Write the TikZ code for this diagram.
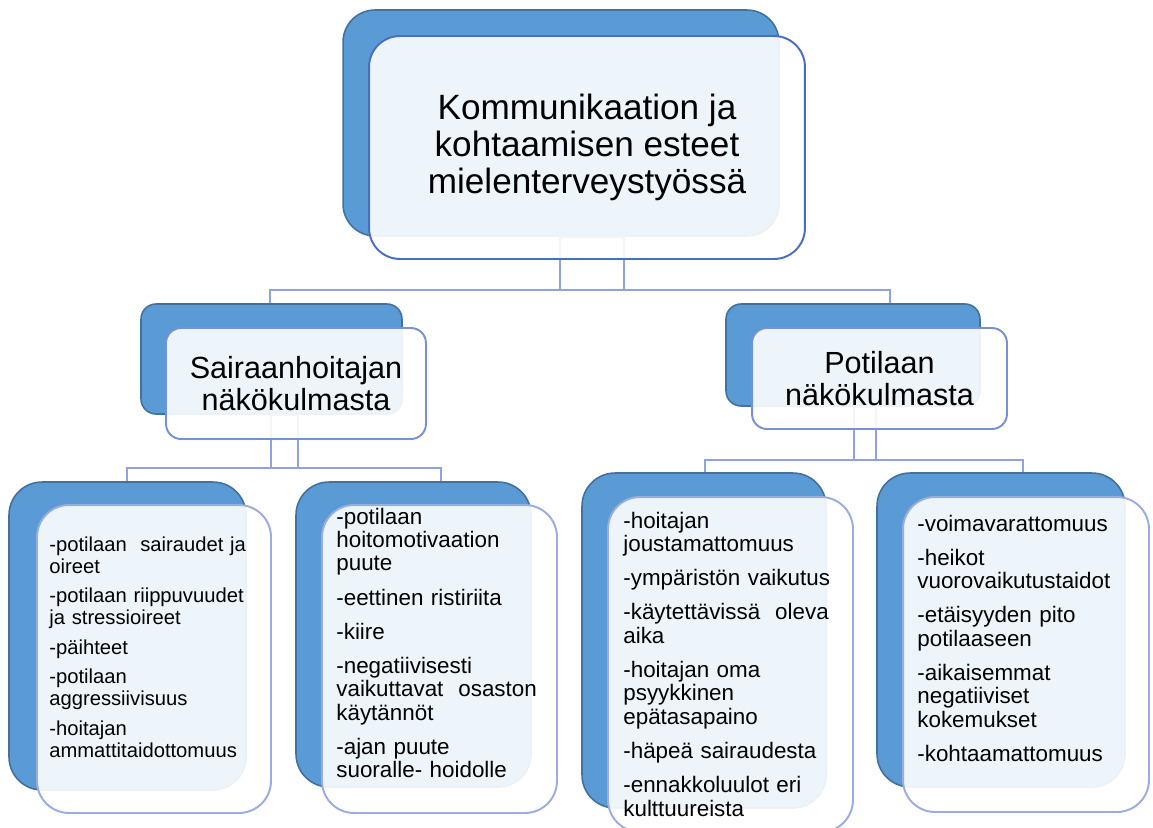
\documentclass[tikz,border=0pt]{standalone}
\usepackage{fontspec}
\setmainfont{Liberation Sans}
\definecolor{blueFill}{RGB}{91,155,213}
\definecolor{blueEdge}{RGB}{65,113,156}
\definecolor{edgeTop}{RGB}{72,110,196}
\definecolor{edgeMid}{RGB}{120,145,210}
\definecolor{edgeLow}{RGB}{155,172,222}
\definecolor{connCol}{RGB}{143,163,220}
\tikzset{
  back/.style={draw=blueEdge, fill=blueFill, line width=0.9pt, inner sep=0pt},
  front/.style={fill=white, fill opacity=0.9, text opacity=1, line width=1.1pt, inner sep=0pt, align=center},
  conn/.style={draw=connCol, line width=1.1pt},
  items/.style={anchor=base west, inner sep=0pt, text width=4.4cm, align=left,
    font=\fontsize{12.75pt}{13.3pt}\selectfont,
    execute at begin node={\parskip=6.2pt\parindent=0pt}},
  itemsSmall/.style={items, font=\fontsize{11.5pt}{12.6pt}\selectfont,
    execute at begin node={\parskip=4.2pt\parindent=0pt}}
}
\begin{document}
\begin{tikzpicture}[x=0.02cm, y=-0.02cm]
  \useasboundingbox[fill=white] (0,0) rectangle (1153,828);

  % back boxes
  \node[back, rounded corners=0.64cm, minimum width=8.72cm, minimum height=4.52cm] (top back) at (561,123) {};
  \node[back, rounded corners=0.3cm, minimum width=5.22cm, minimum height=2.2cm] (sair back) at (271.5,359) {};
  \node[back, rounded corners=0.3cm, minimum width=5.08cm, minimum height=2.04cm] (pot back) at (853,355) {};
  \node[back, rounded corners=0.66cm, minimum width=4.74cm, minimum height=6.16cm] (sa back) at (127.5,636) {};
  \node[back, rounded corners=0.66cm, minimum width=4.7cm, minimum height=6.1cm] (sb back) at (413.5,634.5) {};
  \node[back, rounded corners=0.66cm, minimum width=4.88cm, minimum height=6.7cm] (pa back) at (704,640.5) {};
  \node[back, rounded corners=0.66cm, minimum width=4.96cm, minimum height=6.28cm] (pb back) at (1001,630) {};

  % connectors
  \coordinate (stemA) at (560,290);
  \coordinate (stemB) at (624,290);
  \coordinate (legA) at (270,290);
  \coordinate (legB) at (890,290);
  \draw[conn] (top back.south -| stemA) rectangle (stemB);
  \draw[conn] (legA |- sair back.north) -- (legA) -- (legB) -- (legB |- pot back.north);

  \coordinate (stemC) at (271,468);
  \coordinate (stemD) at (298,468);
  \coordinate (legC) at (127,468);
  \coordinate (legD) at (441,468);
  \draw[conn] (sair back.south -| stemC) rectangle (stemD);
  \draw[conn] (legC |- sa back.north) -- (legC) -- (legD) -- (legD |- sb back.north);

  \coordinate (stemE) at (854,460);
  \coordinate (stemF) at (876,460);
  \coordinate (legE) at (705,460);
  \coordinate (legF) at (1023,460);
  \draw[conn] (pot back.south -| stemE) rectangle (stemF);
  \draw[conn] (legE |- pa back.north) -- (legE) -- (legF) -- (legF |- pb back.north);

  % front boxes
  \node[front, draw=edgeTop, rounded corners=0.62cm, minimum width=8.72cm, minimum height=4.46cm,
    font=\fontsize{20pt}{21pt}\selectfont] (top) at (587,147.5)
    {Kommunikaation ja\\kohtaamisen esteet\\mielenterveystyössä};
  \node[front, draw=edgeMid, rounded corners=0.3cm, minimum width=5.2cm, minimum height=2.22cm,
    font=\fontsize{17.4pt}{17.9pt}\selectfont] (sair) at (296,383.5)
    {Sairaanhoitajan\\näkökulmasta};
  \node[front, draw=edgeMid, rounded corners=0.3cm, minimum width=5.1cm, minimum height=2.02cm,
    font=\fontsize{17.4pt}{17.9pt}\selectfont] (pot) at (879.5,378.5)
    {Potilaan\\näkökulmasta};
  \node[front, draw=edgeLow, rounded corners=0.64cm, minimum width=4.68cm, minimum height=6.16cm] (sa) at (154,659) {};
  \node[front, draw=edgeLow, rounded corners=0.64cm, minimum width=4.7cm, minimum height=6.16cm] (sb) at (439.5,659) {};
  \node[front, draw=edgeLow, rounded corners=0.64cm, minimum width=4.9cm, minimum height=6.7cm] (pa) at (730.5,664.5) {};
  \node[front, draw=edgeLow, rounded corners=0.64cm, minimum width=4.92cm, minimum height=6.3cm] (pb) at (1026,654.5) {};

  % lists
  \node[itemsSmall] (sa text) at (49,551) {%
    -potilaan\ \ sairaudet ja\\oireet\par
    -potilaan riippuvuudet\\ja stressioireet\par
    -päihteet\par
    -potilaan\\aggressiivisuus\par
    -hoitajan\\ammattitaidottomuus};
  \node[items] (sb text) at (336,524) {%
    -potilaan\\hoitomotivaation\\puute\par
    -eettinen ristiriita\par
    -kiire\par
    -negatiivisesti\\vaikuttavat\ \ osaston\\käytännöt\par
    -ajan puute\\suoralle- hoidolle};
  \node[items] (pa text) at (623,528) {%
    -hoitajan\\joustamattomuus\par
    -ympäristön vaikutus\par
    -käytettävissä\ \ oleva\\aika\par
    -hoitajan oma\\psyykkinen\\epätasapaino\par
    -häpeä sairaudesta\par
    -ennakkoluulot eri\\kulttuureista};
  \node[items] (pb text) at (917,531) {%
    -voimavarattomuus\par
    -heikot\\vuorovaikutustaidot\par
    -etäisyyden pito\\potilaaseen\par
    -aikaisemmat\\negatiiviset\\kokemukset\par
    -kohtaamattomuus};
\end{tikzpicture}
\end{document}
